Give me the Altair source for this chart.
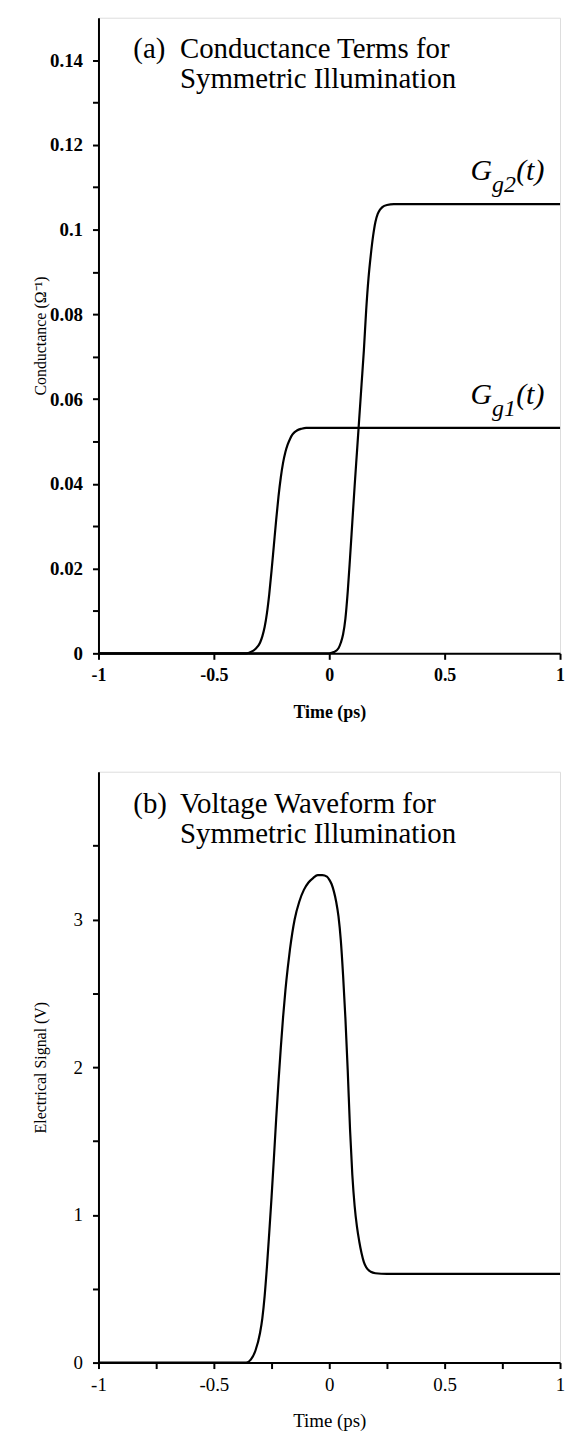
import altair as alt
import pandas as pd

FONT = "Liberation Serif"

# ---------------- Panel (a): conductance terms ----------------
g1_t = [-1.0, -0.36, -0.34, -0.32, -0.30, -0.29, -0.28, -0.27, -0.26, -0.25, -0.24, -0.23, -0.22,
        -0.21, -0.20, -0.19, -0.18, -0.17, -0.16, -0.15, -0.14, -0.12, -0.10, -0.08, 1.0]
g1_v = [0.0, 0.0, 0.0003, 0.0010, 0.0025, 0.0040, 0.0062, 0.0095, 0.0140, 0.0195, 0.0255, 0.0315, 0.0370,
        0.0415, 0.0450, 0.0475, 0.0493, 0.0506, 0.0516, 0.0522, 0.0526, 0.0530, 0.0532, 0.0532, 0.0532]

g2_t = [-1.0, 0.0, 0.02, 0.04, 0.05, 0.06, 0.07, 0.08, 0.09, 0.10, 0.11, 0.12, 0.13, 0.14, 0.15,
        0.16, 0.17, 0.18, 0.19, 0.20, 0.21, 0.22, 0.23, 0.25, 0.28, 1.0]
g2_v = [0.0, 0.0, 0.0003, 0.0012, 0.0025, 0.0045, 0.0082, 0.0145, 0.0225, 0.0310, 0.0395, 0.0475, 0.0555,
        0.0635, 0.0715, 0.0810, 0.0885, 0.0940, 0.0985, 0.1018, 0.1037, 0.1047, 0.1053, 0.1058, 0.106, 0.106]

# ---------------- Panel (b): voltage waveform ----------------
vb_t = [-1.0, -0.36, -0.34, -0.32, -0.30, -0.29, -0.28, -0.27, -0.26, -0.25, -0.24, -0.23, -0.22,
        -0.21, -0.20, -0.19, -0.18, -0.17, -0.16, -0.15, -0.13, -0.11, -0.09, -0.07, -0.05, -0.03,
        -0.01, 0.00, 0.01, 0.02, 0.03, 0.04, 0.05, 0.06, 0.07, 0.08, 0.09, 0.10, 0.11, 0.12, 0.13,
        0.14, 0.15, 0.16, 0.18, 0.20, 0.25, 1.0]
vb_v = [0.0, 0.0, 0.02, 0.08, 0.20, 0.30, 0.45, 0.65, 0.88, 1.12, 1.38, 1.65, 1.90,
        2.13, 2.34, 2.52, 2.67, 2.80, 2.91, 3.00, 3.12, 3.20, 3.25, 3.28, 3.30, 3.30,
        3.29, 3.27, 3.24, 3.19, 3.12, 3.02, 2.86, 2.62, 2.33, 1.98, 1.58, 1.27, 1.06, 0.92, 0.82,
        0.74, 0.68, 0.645, 0.615, 0.605, 0.60, 0.60]

# ---------------- ticks ----------------
a_yticks = [0.0, 0.01, 0.02, 0.03, 0.04, 0.05, 0.06, 0.07, 0.08, 0.09, 0.10, 0.11, 0.12, 0.13, 0.14]
a_xticks = [-1.0, -0.5, 0.0, 0.5, 1.0]
b_yticks = [0.0, 0.5, 1.0, 1.5, 2.0, 2.5, 3.0, 3.5]
b_xticks = [-1.0, -0.75, -0.5, -0.25, 0.0, 0.25, 0.5, 0.75, 1.0]

# ---------------- annotations ----------------
a_head_txt = ["(a)", "Conductance Terms for", "Symmetric Illumination"]
a_head_t = [-0.849, -0.647, -0.647]
a_head_v = [0.1405, 0.1405, 0.1333]

b_head_txt = ["(b)", "Voltage Waveform for", "Symmetric Illumination"]
b_head_t = [-0.849, -0.647, -0.647]
b_head_v = [3.72, 3.72, 3.52]

lab_main_txt = ["G", "(t)", "G", "(t)"]
lab_main_t = [0.612, 0.81, 0.612, 0.81]
lab_main_v = [0.106, 0.106, 0.0532, 0.0532]
lab_sub_txt = ["g2", "g1"]
lab_sub_t = [0.705, 0.705]
lab_sub_v = [0.106, 0.0532]

df_a = pd.DataFrame({
    "t": g1_t + g2_t,
    "v": g1_v + g2_v,
    "series": ["g1"] * len(g1_t) + ["g2"] * len(g2_t),
})
df_b = pd.DataFrame({"t": vb_t, "v": vb_v})
df_ah = pd.DataFrame({"t": a_head_t, "v": a_head_v, "txt": a_head_txt})
df_bh = pd.DataFrame({"t": b_head_t, "v": b_head_v, "txt": b_head_txt})
df_lm = pd.DataFrame({"t": lab_main_t, "v": lab_main_v, "txt": lab_main_txt})
df_ls = pd.DataFrame({"t": lab_sub_t, "v": lab_sub_v, "txt": lab_sub_txt})

common_axis = dict(grid=False, domainColor="black", tickColor="black", labelColor="black",
                   titleColor="black", labelFont=FONT, titleFont=FONT, domainWidth=2,
                   tickWidth=2, labelOverlap=False, labelFlush=False)

W = 464
HA = 639
HB = 594

# ---- panel a ----
xa = alt.X("t:Q", scale=alt.Scale(domain=[-1, 1], nice=False, zero=False),
           axis=alt.Axis(values=a_xticks, labelExpr="toString(datum.value)", title="Time (ps)",
                         labelFontSize=18, labelFontWeight="bold", tickSize=6, labelPadding=7,
                         titleFontSize=18, titleFontWeight="bold", titleY=60, titleBaseline="middle",
                         **common_axis))
ya = alt.Y("v:Q", scale=alt.Scale(domain=[0, 0.15], nice=False),
           axis=alt.Axis(values=a_yticks,
                         labelExpr="round(datum.value*100) % 2 == 0 ? toString(round(datum.value*100)/100) : ''",
                         title="Conductance (Ω⁻¹)", titleX=-58, titleBaseline="middle",
                         titleFontSize=16, titleFontWeight="normal",
                         labelFontSize=19, labelFontWeight="bold", tickSize=6, labelPadding=10,
                         **common_axis))

lines_a = alt.Chart(df_a).mark_line(color="black", strokeWidth=2.2, interpolate="monotone").encode(
    x=xa, y=ya, detail="series:N")
head_a = alt.Chart(df_ah).mark_text(font=FONT, fontSize=29, align="left", baseline="alphabetic",
                                    color="black").encode(x="t:Q", y="v:Q", text="txt:N")
labm = alt.Chart(df_lm).mark_text(font=FONT, fontSize=30, fontStyle="italic", align="left",
                                  baseline="alphabetic", dy=-24, color="black").encode(
    x="t:Q", y="v:Q", text="txt:N")
labs = alt.Chart(df_ls).mark_text(font=FONT, fontSize=24, fontStyle="italic", align="left",
                                  baseline="alphabetic", dy=-12, color="black").encode(
    x="t:Q", y="v:Q", text="txt:N")
panel_a = alt.layer(lines_a, head_a, labm, labs).properties(width=W, height=HA)

# ---- panel b ----
xb = alt.X("t:Q", scale=alt.Scale(domain=[-1, 1], nice=False, zero=False),
           axis=alt.Axis(values=b_xticks,
                         labelExpr="abs(datum.value*2 - round(datum.value*2)) < 0.01 ? toString(datum.value) : ''",
                         title="Time (ps)", labelFontSize=19, labelFontWeight="normal", tickSize=6,
                         labelPadding=7, titleFontSize=19, titleFontWeight="normal", titleY=58,
                         titleBaseline="middle", **common_axis))
yb = alt.Y("v:Q", scale=alt.Scale(domain=[0, 4], nice=False),
           axis=alt.Axis(values=b_yticks,
                         labelExpr="datum.value % 1 == 0 ? toString(datum.value) : ''",
                         title="Electrical Signal (V)", titleX=-58, titleBaseline="middle",
                         titleFontSize=16, titleFontWeight="normal",
                         labelFontSize=19, labelFontWeight="normal", tickSize=6, labelPadding=10,
                         **common_axis))
lines_b = alt.Chart(df_b).mark_line(color="black", strokeWidth=2.2, interpolate="monotone").encode(
    x=xb, y=yb)
head_b = alt.Chart(df_bh).mark_text(font=FONT, fontSize=29, align="left", baseline="alphabetic",
                                    color="black").encode(x="t:Q", y="v:Q", text="txt:N")
panel_b = alt.layer(lines_b, head_b).properties(width=W, height=HB)

chart = alt.vconcat(panel_a, panel_b, spacing=48).properties(
    padding={"left": 32, "top": 13, "right": 0, "bottom": 0},
    background="white",
).configure_view(stroke="black", strokeWidth=2).configure(font=FONT)

chart.save("out.html", embed_options={"renderer": "svg", "actions": False})
